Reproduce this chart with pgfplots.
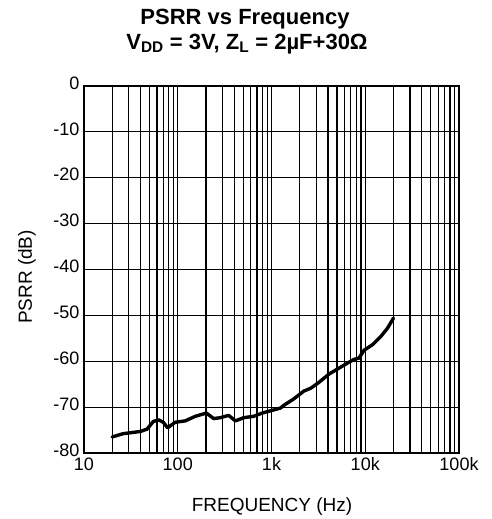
\documentclass[border=0pt]{standalone}
\usepackage{pgfplots}
\pgfplotsset{compat=1.18}
\usepackage{fontspec}
\setmainfont{Liberation Sans}
\pgfplotstableread{
f db
20 -76.5
26 -75.8
40 -75.3
47 -74.8
55 -73.1
63 -72.8
70 -73.3
78 -74.5
94 -73.3
120 -73.0
154 -72.0
202 -71.3
242 -72.5
285 -72.3
349 -71.8
412 -73.0
506 -72.3
647 -72.0
794 -71.3
1016 -70.7
1247 -70.2
1355 -69.6
1731 -68.2
2213 -66.5
2612 -65.9
3206 -64.6
4102 -62.8
5248 -61.5
6457 -60.4
7590 -59.6
8590 -59.3
9710 -57.6
11930 -56.4
14660 -54.6
17270 -52.8
20000 -50.6
}\psrr
\begin{document}
\begin{tikzpicture}
\path[use as bounding box] (-84pt,-66pt) rectangle (407pt,453pt);
\begin{semilogxaxis}[
  at={(0pt,0pt)}, anchor=south west,
  scale only axis, width=375pt, height=367pt,
  xmin=10, xmax=100000, ymin=-80, ymax=0,
  xtick={10,100,1000,10000,100000},
  xticklabels={10,100,1k,10k,100k},
  ytick={-80,-70,-60,-50,-40,-30,-20,-10,0},
  yticklabels={-80,-70,-60,-50,-40,-30,-20,-10,0},
  grid=both,
  major grid style={black, line width=1.2pt},
  minor grid style={black, line width=1.2pt},
  major tick length=0pt, minor tick length=0pt,
  axis line style={black, line width=2pt},
  tick label style={font=\fontsize{18}{18}\selectfont},
  xticklabel style={yshift=-1pt},
  yticklabel style={yshift=3pt, xshift=-1pt},
  clip=true,
]
\addplot[black, line width=3.4pt, line join=round, line cap=round] table[x=f, y=db] {\psrr};
\end{semilogxaxis}
\node[font=\fontsize{22}{22}\selectfont\bfseries] at (161pt,434pt) {PSRR vs Frequency};
\node[font=\fontsize{22}{22}\selectfont\bfseries] at (163pt,409pt) {V\textsubscript{DD} = 3V, Z\textsubscript{L} = 2µF+30Ω};
\node[font=\fontsize{19}{19}\selectfont, rotate=90] at (-57pt,176pt) {PSRR (dB)};
\node[font=\fontsize{19}{19}\selectfont] at (188pt,-54pt) {FREQUENCY (Hz)};
\end{tikzpicture}
\end{document}
